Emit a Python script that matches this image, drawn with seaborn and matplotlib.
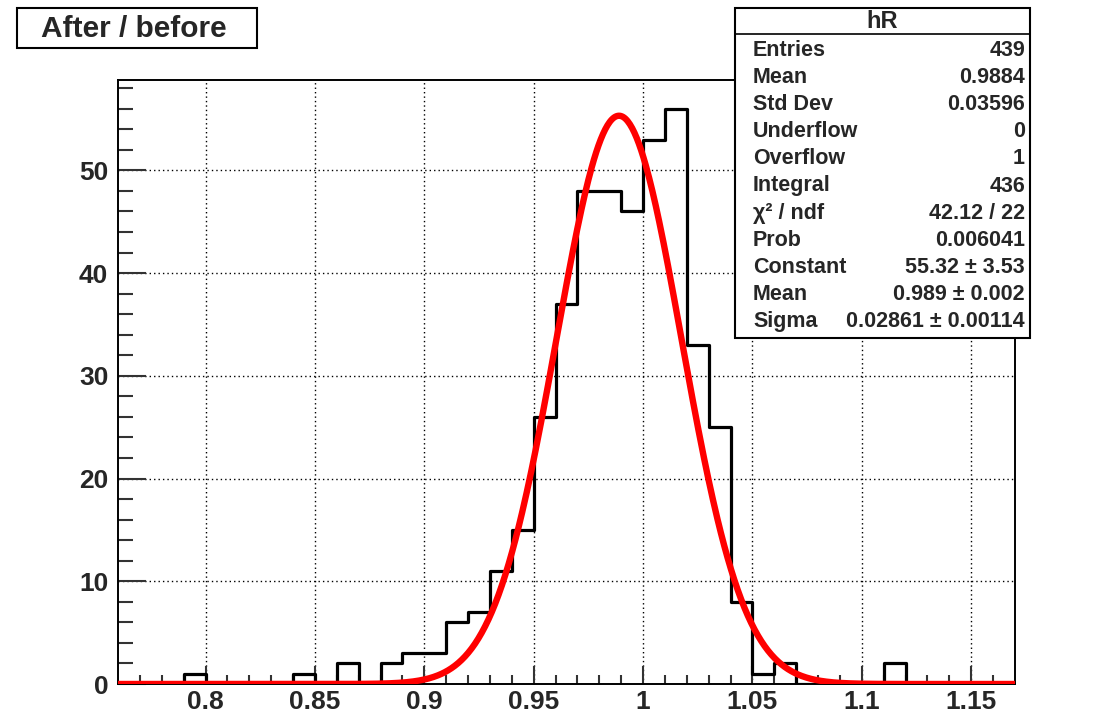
import numpy as np
import pandas as pd
import matplotlib
matplotlib.use("Agg")
import matplotlib.pyplot as plt
from matplotlib.patches import Rectangle
from matplotlib.lines import Line2D
import seaborn as sns

# ---- data ----
bin_edges = [round(0.76 + 0.01 * i, 2) for i in range(42)]
counts = [0, 0, 0, 1, 0, 0, 0, 0, 1, 0,
          2, 0, 2, 3, 3, 6, 7, 11, 15, 26,
          37, 48, 48, 46, 53, 56, 33, 25, 8, 1,
          2, 0, 0, 0, 0, 2, 0, 0, 0, 0, 0]
fit_constant = 55.32
fit_mean = 0.989
fit_sigma = 0.02861

title_text = "After / before"
stats_name = "hR"
stats_labels = ["Entries", "Mean", "Std Dev", "Underflow", "Overflow", "Integral",
                "χ² / ndf", "Prob", "Constant", "Mean", "Sigma"]
stats_values = ["439", "0.9884", "0.03596", "0", "1", "436",
                "42.12 / 22", "0.006041", "55.32 ± 3.53", "0.989 ± 0.002",
                "0.02861 ± 0.00114"]
x_ticks = [0.8, 0.85, 0.9, 0.95, 1.0, 1.05, 1.1, 1.15]
x_ticklabels = ["0.8", "0.85", "0.9", "0.95", "1", "1.05", "1.1", "1.15"]
y_ticks = [0, 10, 20, 30, 40, 50]

# ---- style ----
sns.set_style("white")
plt.rcParams["font.family"] = ["Liberation Sans", "DejaVu Sans"]
plt.rcParams["font.weight"] = "bold"

W, H = 1111, 714
fig = plt.figure(figsize=(W / 100, H / 100), dpi=100)
ax = fig.add_axes([118 / W, 1 - 684 / H, (1015 - 118) / W, (684 - 80) / H])

edges = np.array(bin_edges)
df = pd.DataFrame({"x": (edges[:-1] + edges[1:]) / 2, "w": counts})
sns.histplot(data=df, x="x", weights="w", bins=list(edges), element="step", fill=False,
             color="black", linewidth=2.3, ax=ax, zorder=3)

xs = np.linspace(edges[0], edges[-1], 800)
ys = fit_constant * np.exp(-0.5 * ((xs - fit_mean) / fit_sigma) ** 2)
sns.lineplot(x=xs, y=ys, color="#ff0000", linewidth=4.6, ax=ax, zorder=4)

ax.set_xlim(edges[0], edges[-1])
ax.set_ylim(0, 58.8)
ax.set_xlabel("")
ax.set_ylabel("")
ax.set_xticks(x_ticks)
ax.set_xticklabels(x_ticklabels)
ax.set_xticks(edges[1:-1], minor=True)
ax.set_yticks(y_ticks)
ax.set_yticks(np.arange(2, 59, 2), minor=True)
ax.grid(True, which="major", color="black", linestyle=(0, (1, 2.2)), linewidth=1.0)
ax.set_axisbelow(True)
for s in ax.spines.values():
    s.set_color("black")
    s.set_linewidth(1.4)
    s.set_visible(True)
ax.tick_params(axis="x", which="major", direction="in", length=13, width=1.5,
               labelsize=19, pad=4, color="#333333", bottom=True)
ax.tick_params(axis="x", which="minor", direction="in", length=6.5, width=1.5,
               color="#333333", bottom=True)
ax.tick_params(axis="y", which="major", direction="in", length=20, width=1.5,
               labelsize=19, pad=7, color="#333333", left=True)
ax.tick_params(axis="y", which="minor", direction="in", length=11, width=1.5,
               color="#333333", left=True)
for lab in ax.get_xticklabels() + ax.get_yticklabels():
    lab.set_fontweight("bold")


def fx(px):
    return px / W


def fy(py):
    return 1 - py / H


# title box
fig.patches.append(Rectangle((fx(17), fy(48)), fx(257) - fx(17), fy(8) - fy(48),
                             transform=fig.transFigure, facecolor="white",
                             edgecolor="black", linewidth=1.5, zorder=5))
fig.text(fx(134), fy(29), title_text, ha="center", va="center", fontsize=21.5,
         fontweight="bold", zorder=6)

# stats box
bx0, bx1, by0, by1 = 735, 1030, 8, 338
fig.patches.append(Rectangle((fx(bx0), fy(by1)), fx(bx1) - fx(bx0), fy(by0) - fy(by1),
                             transform=fig.transFigure, facecolor="white",
                             edgecolor="black", linewidth=1.5, zorder=5))
fig.add_artist(Line2D([fx(bx0), fx(bx1)], [fy(34), fy(34)], transform=fig.transFigure,
                      color="black", linewidth=1.2, zorder=6))
fig.text(fx((bx0 + bx1) / 2), fy(21), stats_name, ha="center", va="center",
         fontsize=17, fontweight="bold", zorder=6)
row_y = np.linspace(50, 322, len(stats_labels))
for yy, lab, val in zip(row_y, stats_labels, stats_values):
    fig.text(fx(753), fy(yy), lab, ha="left", va="center", fontsize=15.5,
             fontweight="bold", zorder=6)
    fig.text(fx(1025), fy(yy), val, ha="right", va="center", fontsize=15.5,
             fontweight="bold", zorder=6)

fig.savefig("out.png", dpi=100, facecolor="white")
